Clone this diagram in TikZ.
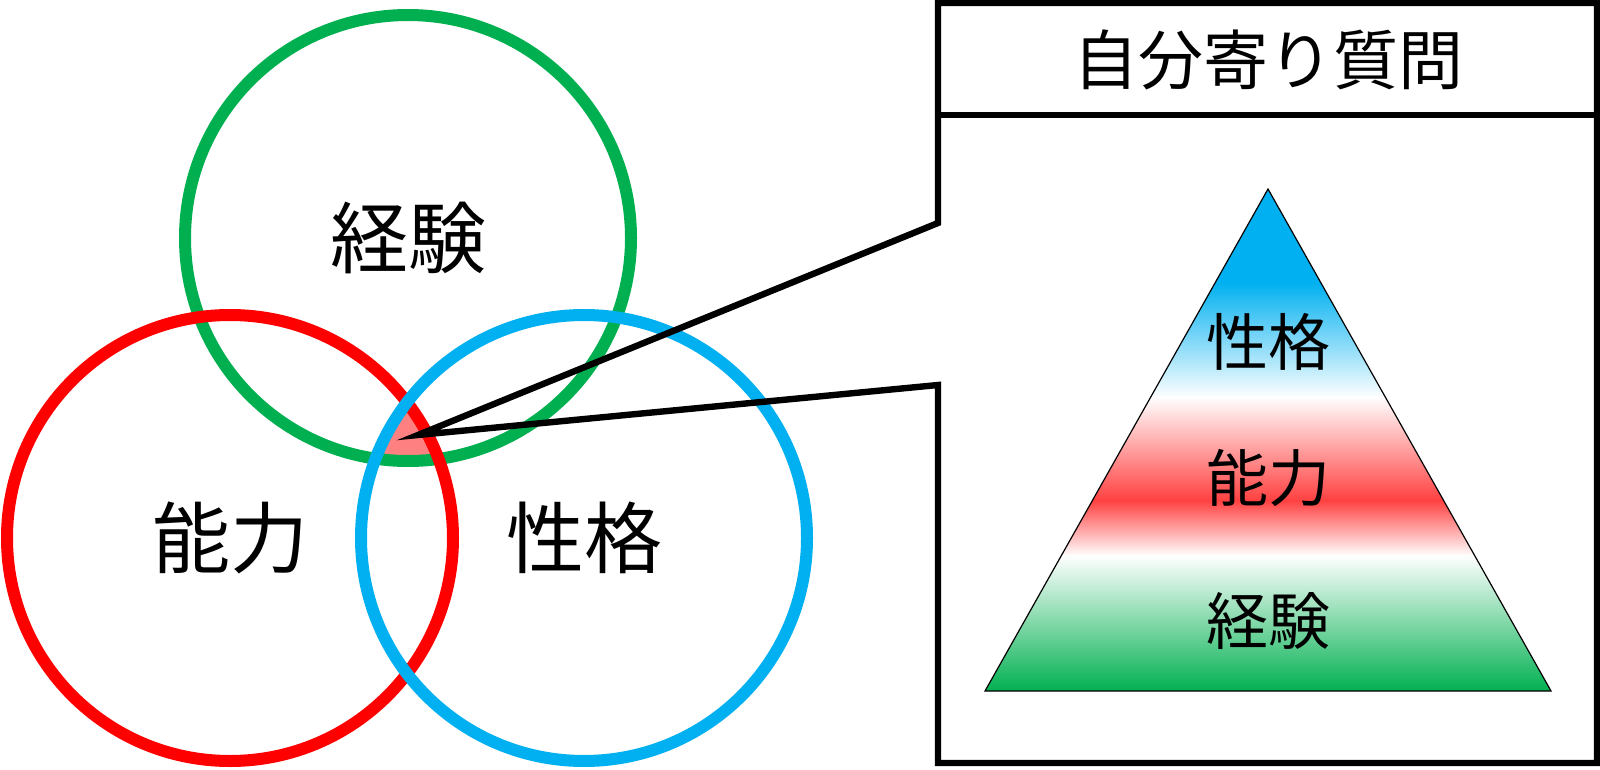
\documentclass[tikz,border=0pt]{standalone}
\usepackage{fontspec}
\newfontfamily\jp{Noto Sans CJK JP}
\definecolor{cgreen}{HTML}{00B050}
\definecolor{cred}{HTML}{FF0000}
\definecolor{cblue}{HTML}{00B0F0}
\definecolor{cpink}{HTML}{FF8080}
\definecolor{tred}{HTML}{FF4040}
\begin{document}
\begin{tikzpicture}[x=0.5pt,y=-0.5pt,
  venn/.style={circle, minimum size=223pt, inner sep=0pt, line width=6pt,
    font=\jp\fontsize{39}{39}\selectfont},
  frame/.style={line width=3.2pt, line join=miter},
  trilabel/.style={font=\jp\fontsize{31}{31}\selectfont, inner sep=0pt},
  titlelabel/.style={font=\jp\fontsize{32.5}{32.5}\selectfont, inner sep=0pt}]
\useasboundingbox (0,0) rectangle (1600,770);
% pink triple intersection
\begin{scope}
  \clip (408,238) circle[radius=111.5pt];
  \clip (230,538) circle[radius=111.5pt];
  \fill[cpink] (584,538) circle[radius=111.5pt];
\end{scope}
% circles
\node[venn, draw=cgreen] (exp) at (408,238) {経験};
\node[venn, draw=cred] (abl) at (230,538) {能力};
\node[venn, draw=cblue] (per) at (584,538) {性格};
% callout box
\coordinate (tip) at (418,435);
\coordinate (wt) at (938,223);
\coordinate (wb) at (938,385);
\coordinate (tl) at (938,3);
\coordinate (tr) at (1597,3);
\coordinate (br) at (1597,763);
\coordinate (bl) at (938,763);
\draw[frame] (wt) -- (tl) -- (tr) -- (br) -- (bl) -- (wb) -- (tip) -- cycle;
\coordinate (dl) at (938,115);
\coordinate (dr) at (1597,115);
\draw[frame] (dl) -- (dr);
\node[titlelabel] (title) at (1268,60) {自分寄り質問};
% pyramid
\coordinate (apex) at (1268,189);
\coordinate (pl) at (985,691);
\coordinate (pr) at (1551,691);
\begin{scope}
  \clip (apex) -- (pl) -- (pr) -- cycle;
  \fill[cblue] (985,185) rectangle (1551,283);
  \shade[top color=cblue, bottom color=white] (985,282) rectangle (1551,398);
  \shade[top color=white, bottom color=tred] (985,397) rectangle (1551,501);
  \shade[top color=tred, bottom color=white] (985,500) rectangle (1551,556);
  \shade[top color=white, bottom color=cgreen] (985,555) rectangle (1551,692);
\end{scope}
\draw[line width=0.6pt, line join=miter] (apex) -- (pl) -- (pr) -- cycle;
\node[trilabel] (t1) at (1268,342) {性格};
\node[trilabel] (t2) at (1268,478) {能力};
\node[trilabel] (t3) at (1268,621) {経験};
\end{tikzpicture}
\end{document}
